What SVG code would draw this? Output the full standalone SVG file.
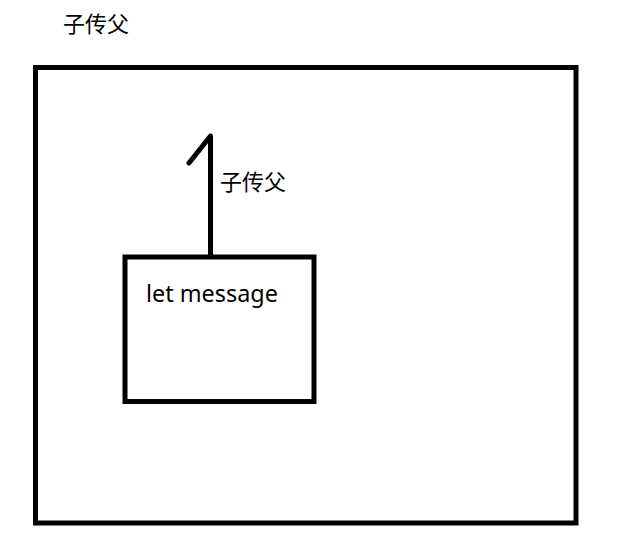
<svg xmlns="http://www.w3.org/2000/svg" width="625" height="549" viewBox="0 0 625 549">
<style>
.box{fill:none;stroke:#000;stroke-width:5}
.line{fill:none;stroke:#000;stroke-width:5;stroke-linecap:round;stroke-linejoin:round}
.t{font-family:"Noto Sans","Noto Sans CJK SC",sans-serif;font-size:22px;fill:#000}
.big{font-size:23.4px}
</style>
<rect width="625" height="549" fill="#fff"/>
<g id="title"><text class="t" x="63" y="32">子传父</text></g>
<g id="parent"><rect class="box" x="35.5" y="67.5" width="540.5" height="455.5"/></g>
<g id="child"><rect class="box" x="125" y="257" width="189" height="144.5"/>
<text class="t big" x="146" y="302">let message</text></g>
<g id="connectors">
<path class="line" d="M210.5 255 V136 L189 163"/>
<text class="t" x="220" y="190">子传父</text>
</g>
</svg>
